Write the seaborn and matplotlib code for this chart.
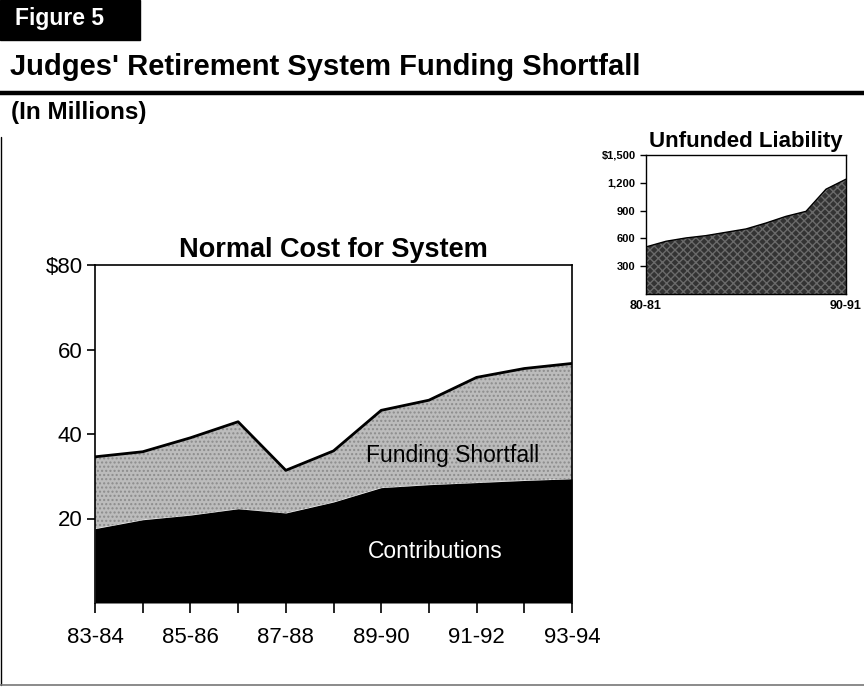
# Judges' Retirement System funding shortfall - figure 5
import numpy as np
import pandas as pd
import seaborn as sns
import matplotlib.pyplot as plt
from matplotlib.lines import Line2D
from matplotlib.patches import Rectangle

# Datos (millones de dolares)
years = ["83-84", "84-85", "85-86", "86-87", "87-88", "88-89",
         "89-90", "90-91", "91-92", "92-93", "93-94"]
total_cost = [34.6, 35.8, 39.1, 42.9, 31.4, 36.0, 45.6, 48.0, 53.4, 55.5, 56.7]
contributions = [17.6, 19.7, 20.8, 22.3, 21.3, 23.9, 27.3, 28.0, 28.5, 29.0, 29.4]

liab_years = ["80-81", "81-82", "82-83", "83-84", "84-85", "85-86",
              "86-87", "87-88", "88-89", "89-90", "90-91"]
unfunded = [508, 569, 605, 630, 666, 702, 766, 838, 892, 1131, 1239]

df = pd.DataFrame({"year": years, "total": total_cost, "contrib": contributions})
df["pos"] = np.arange(len(years))
df_liab = pd.DataFrame({"year": liab_years, "unfunded": unfunded})
df_liab["pos"] = np.arange(len(liab_years))

sns.set_style("ticks")
plt.rcParams["font.family"] = ["Liberation Sans", "DejaVu Sans"]
plt.rcParams["text.color"] = "black"
plt.rcParams["xtick.color"] = "black"
plt.rcParams["ytick.color"] = "black"
plt.rcParams["axes.edgecolor"] = "black"

fig = plt.figure(figsize=(8.64, 6.87), dpi=100)

# Cabecera
fig.patches.append(Rectangle((0, 1 - 40 / 687), 140 / 864, 40 / 687, transform=fig.transFigure,
                             color="black", zorder=0))
fig.text(15 / 864, 1 - 19 / 687, "Figure 5", color="white", fontsize=16.5, fontweight="bold", va="center")
fig.text(10 / 864, 1 - 67 / 687, "Judges' Retirement System Funding Shortfall",
         fontsize=21, fontweight="bold", va="center")
fig.lines.append(Line2D([0, 1], [1 - 93 / 687, 1 - 93 / 687], transform=fig.transFigure,
                        color="black", linewidth=3.2))
fig.text(11 / 864, 1 - 113 / 687, "(In Millions)", fontsize=17.5, fontweight="bold", va="center")
# marco de la pagina
fig.lines.append(Line2D([1 / 864, 1 / 864], [0.003, 0.80], transform=fig.transFigure,
                        color="black", linewidth=1))
fig.lines.append(Line2D([0, 1], [0.003, 0.003], transform=fig.transFigure,
                        color="#777777", linewidth=1.2))

# Grafico principal
ax = fig.add_axes([95 / 864, 1 - 603 / 687, 477 / 864, 338 / 687])
ax.fill_between(df["pos"], 0, df["contrib"], color="black", linewidth=0, zorder=2)
ax.fill_between(df["pos"], df["contrib"], df["total"], facecolor="#bcbcbc",
                edgecolor="#8c8c8c", hatch="....", linewidth=0, zorder=1)
sns.lineplot(data=df, x="pos", y="total", color="black", linewidth=2, ax=ax, zorder=3)
ax.set_xlim(0, 10)
ax.set_ylim(0, 80)
ax.set_yticks([20, 40, 60, 80])
ax.set_yticklabels(["20", "40", "60", "$80"], fontsize=16)
ax.set_xticks(df["pos"])
ax.set_xticklabels([y if i % 2 == 0 else "" for i, y in enumerate(years)], fontsize=16)
ax.tick_params(axis="y", length=6, width=1.2, pad=3)
ax.tick_params(axis="x", length=7, width=1.2, pad=10)
ax.set_xlabel("")
ax.set_ylabel("")
for side in ["top", "right", "left"]:
    ax.spines[side].set_visible(True)
    ax.spines[side].set_linewidth(1.2)
ax.spines["bottom"].set_visible(False)
ax.set_title("Normal Cost for System", fontsize=19.5, fontweight="bold", pad=6)
ax.text(7.5, 35.0, "Funding Shortfall", fontsize=16.5, ha="center", va="center", zorder=4)
ax.text(7.13, 12.1, "Contributions", fontsize=16.5, color="white", ha="center", va="center", zorder=4)

# Recuadro: pasivo no financiado
ax2 = fig.add_axes([646 / 864, 1 - 294 / 687, 200 / 864, 139 / 687])
ax2.fill_between(df_liab["pos"], 0, df_liab["unfunded"], facecolor="#333333",
                 edgecolor="#6a6a6a", hatch="xxxx", linewidth=0)
sns.lineplot(data=df_liab, x="pos", y="unfunded", color="black", linewidth=1, ax=ax2)
ax2.set_xlim(0, 10)
ax2.set_ylim(0, 1500)
ax2.set_yticks([300, 600, 900, 1200, 1500])
ax2.set_yticklabels(["300", "600", "900", "1,200", "$1,500"], fontsize=8, fontweight="bold")
ax2.set_xticks([0, 10])
ax2.set_xticklabels([liab_years[0], liab_years[-1]], fontsize=9, fontweight="bold")
ax2.tick_params(axis="y", length=4, width=1)
ax2.tick_params(axis="x", length=0, pad=4)
ax2.set_xlabel("")
ax2.set_ylabel("")
for side in ax2.spines:
    ax2.spines[side].set_visible(True)
    ax2.spines[side].set_linewidth(1)
ax2.set_title("Unfunded Liability", fontsize=16, fontweight="bold", pad=6)

fig.savefig("out.png", dpi=100)
